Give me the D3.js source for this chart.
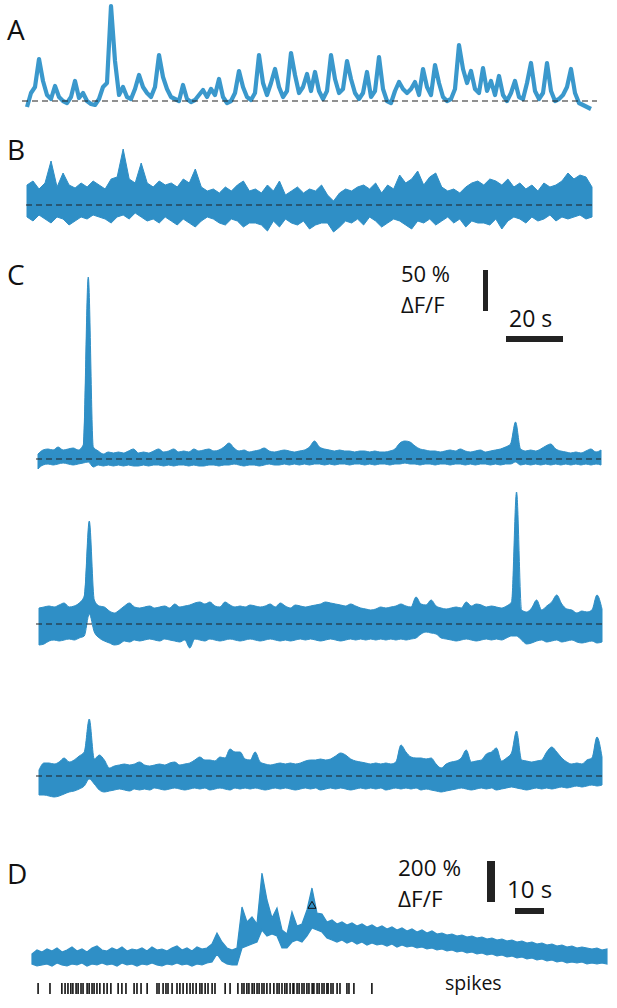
<!DOCTYPE html>
<html><head><meta charset="utf-8">
<script src="https://cdn.jsdelivr.net/npm/d3@7"></script>
<style>body{margin:0;background:#fff} svg{display:block}</style>
</head><body>
<svg id="chart" width="617" height="1008"></svg>
<script>
// ---------- DATA (heights above each trace's baseline) ----------
const panelLabels = ["A", "B", "C", "D"];

const traceA = [-6,8,14,42,20,6,2,15,4,0,
 -2,4,20,3,8,0,-3,-4,2,14,
 18,95,40,6,14,4,2,12,26,14,
 8,4,14,46,24,12,4,2,0,16,
 2,-1,1,6,11,4,12,6,22,4,
 -2,0,8,30,14,4,1,8,46,18,
 6,18,32,14,4,10,48,26,8,14,
 27,10,29,10,2,10,46,22,8,12,
 40,22,8,2,8,29,4,10,44,12,
 0,-2,10,19,12,8,12,19,6,32,
 14,6,36,18,4,0,2,12,56,32,
 18,30,12,8,33,10,20,6,25,6,
 0,8,20,4,2,18,38,10,2,8,
 38,10,0,2,6,14,32,8,-2,-4,
 -6,-8];

const traceBUpper = [20,24,16,22,44,18,32,20,17,22,
 18,24,20,16,26,28,56,26,22,42,
 22,18,24,20,22,18,26,22,36,18,
 14,16,12,18,14,20,24,14,16,12,
 20,14,24,10,14,18,12,16,14,20,
 10,4,12,16,14,18,20,16,22,12,
 20,16,30,22,26,34,20,28,32,18,
 14,16,12,18,22,24,20,26,24,20,
 26,18,22,16,20,14,22,18,20,24,
 32,26,30,28,18];
const traceBLower = [-12,-16,-10,-14,-18,-12,-14,-20,-16,-12,
 -14,-10,-12,-14,-18,-12,-10,-14,-8,-12,
 -16,-14,-18,-12,-16,-20,-14,-18,-22,-16,
 -12,-14,-18,-20,-14,-16,-22,-18,-18,-20,
 -26,-16,-22,-14,-18,-20,-16,-24,-20,-18,
 -18,-27,-22,-16,-18,-14,-20,-12,-16,-22,
 -18,-14,-16,-20,-24,-16,-18,-14,-20,-16,
 -12,-18,-14,-22,-16,-18,-18,-20,-14,-24,
 -16,-12,-14,-18,-12,-16,-14,-10,-16,-12,
 -14,-12,-10,-14,-12];

const traceC1Upper = [5,9,10,9,12,9,10,11,9,14,
 182,12,8,5,7,6,7,6,8,10,
 6,7,6,8,10,7,8,10,7,8,
 7,10,8,9,10,8,9,12,16,11,
 8,9,7,8,9,11,8,7,8,9,
 8,7,8,9,12,18,12,10,9,8,
 9,8,8,7,8,8,7,8,7,7,
 8,10,16,18,17,13,10,9,8,8,
 7,8,9,8,10,8,7,8,9,7,
 8,9,10,12,15,37,10,8,9,8,
 10,13,15,10,8,7,6,7,6,8,
 10,7,9];
const traceC1Lower = [-10,-6,-5,-6,-5,-4,-5,-6,-5,-4,
 -3,-8,-6,-7,-6,-7,-6,-7,-6,-7,
 -7,-6,-7,-6,-6,-7,-6,-7,-6,-6,
 -7,-6,-7,-7,-6,-6,-7,-6,-6,-5,
 -6,-7,-6,-6,-7,-6,-5,-6,-6,-5,
 -6,-5,-6,-5,-6,-5,-5,-6,-5,-6,
 -5,-5,-6,-5,-5,-6,-5,-6,-5,-5,
 -6,-5,-5,-4,-5,-5,-6,-5,-5,-6,
 -5,-5,-6,-5,-5,-6,-5,-6,-5,-5,
 -6,-5,-6,-5,-5,-3,-6,-5,-6,-5,
 -6,-5,-6,-5,-6,-5,-6,-5,-6,-5,
 -6,-5,-6];

const traceC2Upper = [16,17,18,17,19,21,17,18,21,28,
 103,24,18,17,13,11,14,18,21,17,
 16,17,18,16,17,18,16,20,17,18,
 19,21,22,20,22,18,17,22,19,17,
 18,17,19,18,17,18,20,17,21,18,
 16,19,18,17,18,19,20,22,21,20,
 19,18,20,18,16,15,14,15,17,16,
 17,18,20,18,17,27,20,19,24,18,
 16,15,16,17,16,22,18,20,19,17,
 18,17,16,18,22,132,14,12,16,24,
 14,18,22,29,20,15,14,11,13,12,
 14,29,15];
const traceC2Lower = [-21,-20,-17,-16,-17,-16,-15,-16,-14,-12,
 10,-8,-14,-17,-19,-21,-20,-17,-18,-16,
 -17,-16,-15,-16,-17,-15,-16,-17,-18,-16,
 -24,-15,-16,-17,-15,-16,-17,-16,-15,-16,
 -17,-16,-15,-16,-17,-16,-15,-16,-17,-16,
 -17,-16,-15,-16,-15,-16,-17,-16,-15,-16,
 -17,-16,-15,-16,-15,-16,-15,-16,-15,-16,
 -15,-16,-15,-16,-15,-14,-10,-8,-9,-10,
 -14,-15,-16,-17,-16,-15,-16,-17,-16,-15,
 -16,-15,-16,-14,-12,-12,-16,-20,-19,-17,
 -16,-18,-17,-16,-18,-17,-16,-18,-19,-18,
 -17,-19,-18];

const traceC3Upper = [6,13,13,12,14,18,14,16,20,24,
 57,17,21,16,8,10,11,12,11,12,
 14,11,10,11,12,11,13,14,11,12,
 13,16,19,16,16,15,19,18,27,24,
 24,17,16,24,14,12,11,12,13,12,
 13,12,13,15,16,16,17,16,17,20,
 23,21,17,15,14,13,12,13,12,13,
 12,14,31,24,19,18,18,17,18,12,
 8,12,14,15,18,26,14,15,16,22,
 24,28,15,18,23,45,16,15,14,15,
 16,24,29,24,18,14,12,13,12,16,
 18,39,19];
const traceC3Lower = [-19,-19,-20,-21,-20,-18,-16,-15,-13,-10,
 -3,-8,-14,-16,-15,-14,-13,-14,-15,-13,
 -14,-13,-14,-12,-13,-14,-13,-12,-13,-14,
 -13,-12,-13,-12,-14,-13,-12,-13,-14,-12,
 -13,-12,-13,-12,-13,-14,-13,-12,-13,-12,
 -13,-14,-13,-12,-13,-12,-14,-13,-12,-13,
 -12,-13,-14,-13,-12,-13,-12,-13,-12,-14,
 -13,-12,-13,-12,-13,-12,-14,-13,-14,-15,
 -16,-15,-14,-13,-12,-13,-14,-13,-12,-13,
 -12,-14,-13,-12,-11,-12,-13,-14,-13,-12,
 -13,-12,-13,-12,-11,-12,-11,-10,-11,-10,
 -9,-10,-9];

const traceDUpper = [6,10,8,11,9,12,8,10,13,9,
 11,8,12,14,10,9,12,10,13,9,
 11,10,12,9,13,10,11,9,12,14,
 10,12,9,13,11,12,16,27,18,12,
 10,12,53,38,43,36,87,60,42,52,
 30,26,48,34,36,50,72,47,46,38,
 40,36,38,35,37,34,36,33,35,32,
 34,31,33,30,32,29,31,28,30,27,
 29,26,27,25,26,24,25,23,24,22,
 23,21,22,20,21,19,20,18,19,17,
 18,16,17,15,16,14,15,13,14,12,
 13,12,11,12,10,11];
const traceDLower = [-4,-6,-5,-4,-6,-3,-5,-6,-4,-5,
 -3,-6,-4,-5,-3,-5,-4,-6,-3,-5,
 -4,-6,-4,-5,-3,-5,-6,-4,-5,-3,
 -5,-4,-6,-4,-5,-3,-2,6,-1,-4,
 -5,-5,12,14,16,18,30,24,26,24,
 12,12,18,20,18,24,32,30,28,22,
 20,18,20,17,19,16,18,15,17,15,
 16,14,16,13,15,13,14,12,13,11,
 12,10,11,9,10,8,9,7,8,6,
 7,5,6,4,5,3,4,2,3,1,
 2,0,1,-1,0,-2,-1,-3,-2,-3,
 -2,-4,-3,-4,-3,-4];
const dSampleSeconds = 1.724;          // sampling step of trace D
const markerD = { sample: 56, value: 54 };   // open triangle on trace D

// spike times (s) for the raster under trace D
const spikeTimes = [2.1,6.2,10.3,11.4,12.4,13.4,14.1,15.2,15.9,16.9,17.6,19.0,19.7,20.7,21.4,22.4,23.4,24.8,25.9,27.2,
 29.7,31.0,32.4,35.2,36.2,37.6,39.7,43.1,43.8,45.2,46.2,46.9,48.3,50.0,51.0,52.1,53.4,54.5,55.5,56.6,
 57.9,58.6,59.7,60.7,62.1,63.1,66.6,68.3,71.0,72.4,73.1,74.1,74.8,75.9,76.6,77.6,78.3,79.3,80.0,81.0,
 82.1,83.4,84.5,85.2,86.2,87.2,87.9,89.0,90.0,90.3,91.4,92.1,93.1,93.8,94.8,95.5,96.6,97.2,98.3,99.0,
 100.0,100.7,101.7,102.1,103.1,103.8,105.2,106.2,108.6,109.3,111.0,117.2];

const scaleBarC = { amp: "50 %", unit: "ΔF/F", time: "20 s" };
const scaleBarD = { amp: "200 %", unit: "ΔF/F", time: "10 s", seconds: 10 };
const spikesLabel = "spikes";

// ---------- DRAWING ----------
const svg = d3.select("#chart");
const BLUE = "#2f8fc6";
const FONT = "'Open Sans', 'Noto Sans', sans-serif";

function dashed(y, x0, x1) {
  svg.append("line").attr("x1", x0).attr("x2", x1).attr("y1", y).attr("y2", y)
    .attr("stroke", "#222").attr("stroke-width", 1.1).attr("stroke-dasharray", "6,4");
}
function bandTrace(upper, lower, x0, x1, base, curve) {
  const n = Math.min(upper.length, lower.length);
  const x = d3.scaleLinear().domain([0, n - 1]).range([x0, x1]);
  const y = d3.scaleLinear().domain([0, 100]).range([base, base - 100]);
  const area = d3.area().x((d, i) => x(i)).y0((d, i) => y(lower[i])).y1((d, i) => y(upper[i])).curve(curve);
  svg.append("path").datum(d3.range(n)).attr("d", area)
    .attr("fill", BLUE).attr("stroke", BLUE).attr("stroke-width", 1).attr("stroke-linejoin", "round");
  return { x, y };
}
function txt(x, y, s, size) {
  svg.append("text").attr("x", x).attr("y", y).text(s).attr("font-family", FONT)
    .attr("font-size", size).attr("fill", "#111");
}

// labels
const labelPos = [[7, 40], [7, 160], [7, 285], [7, 884]];
panelLabels.forEach((t, i) => txt(labelPos[i][0], labelPos[i][1], t, 28));

// Panel A (line)
{
  const x = d3.scaleLinear().domain([0, traceA.length - 1]).range([27, 591]);
  const y = d3.scaleLinear().domain([0, 100]).range([101, 1]);
  const line = d3.line().x((d, i) => x(i)).y(d => y(d)).curve(d3.curveLinear);
  svg.append("path").datum(traceA).attr("d", line).attr("fill", "none")
    .attr("stroke", "#3a98cc").attr("stroke-width", 4.2).attr("stroke-linejoin", "round");
  dashed(101, 22, 597);
}
// Panel B
bandTrace(traceBUpper, traceBLower, 27, 592, 205, d3.curveLinear);
dashed(205, 26, 596);

// Panel C
bandTrace(traceC1Upper, traceC1Lower, 38, 601, 459, d3.curveMonotoneX);
dashed(459, 36, 601);
bandTrace(traceC2Upper, traceC2Lower, 39, 602, 624, d3.curveMonotoneX);
dashed(624, 36, 602);
bandTrace(traceC3Upper, traceC3Lower, 39, 602, 776, d3.curveMonotoneX);
dashed(776, 36, 602);

// C scale bar
txt(401, 282, scaleBarC.amp, 22);
txt(401, 313, scaleBarC.unit, 22);
svg.append("rect").attr("x", 483).attr("y", 270).attr("width", 5).attr("height", 41).attr("fill", "#222");
txt(509, 327, scaleBarC.time, 23);
svg.append("rect").attr("x", 506).attr("y", 336).attr("width", 57).attr("height", 6).attr("fill", "#222");

// Panel D
{
  const n = Math.min(traceDUpper.length, traceDLower.length);
  const xT = d3.scaleLinear().domain([0, 200]).range([32, 612]);
  const y = d3.scaleLinear().domain([0, 100]).range([960, 860]);
  const area = d3.area().x((d, i) => xT(i * dSampleSeconds))
    .y0((d, i) => y(traceDLower[i])).y1((d, i) => y(traceDUpper[i])).curve(d3.curveLinear);
  svg.append("path").datum(d3.range(n)).attr("d", area)
    .attr("fill", BLUE).attr("stroke", BLUE).attr("stroke-width", 1.2).attr("stroke-linejoin", "miter");
  svg.append("path").attr("d", d3.symbol().type(d3.symbolTriangle).size(28)())
    .attr("transform", `translate(${xT(markerD.sample * dSampleSeconds)},${y(markerD.value)})`)
    .attr("fill", "none").attr("stroke", "#111").attr("stroke-width", 1);
  svg.append("g").selectAll("line").data(spikeTimes).join("line")
    .attr("x1", d => xT(d)).attr("x2", d => xT(d)).attr("y1", 983).attr("y2", 994)
    .attr("stroke", "#111").attr("stroke-width", 1.6);
  txt(445, 990, spikesLabel, 19.5);
  txt(398, 876, scaleBarD.amp, 22.5);
  txt(398, 907, scaleBarD.unit, 22.5);
  svg.append("rect").attr("x", 487).attr("y", 861).attr("width", 8).attr("height", 41).attr("fill", "#222");
  txt(507, 898, scaleBarD.time, 24);
  svg.append("rect").attr("x", 515).attr("y", 908).attr("width", xT(scaleBarD.seconds) - xT(0)).attr("height", 6).attr("fill", "#222");
}
</script>
</body></html>
